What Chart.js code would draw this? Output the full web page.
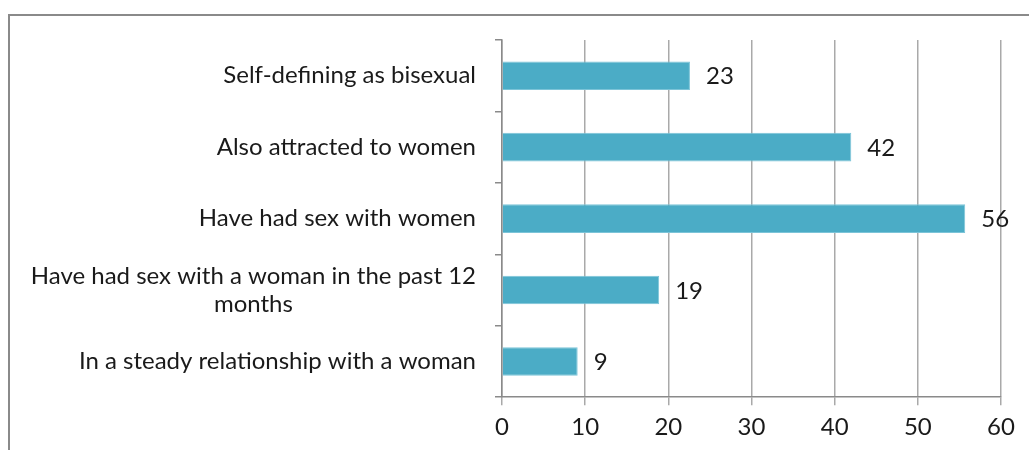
<!DOCTYPE html>
<html>
<head>
<meta charset="utf-8">
<script src="https://cdn.jsdelivr.net/npm/chart.js@4"></script>
<style>
  html, body { margin: 0; padding: 0; background: #fff; overflow: hidden; }
  #wrap { position: relative; width: 1029px; height: 450px; }
  #frame { position: absolute; left: 8px; top: 14px; width: 1100px; height: 600px; border: 2px solid #8a8a8a; }
  canvas { position: absolute; left: 0; top: 0; }
</style>
</head>
<body>
<div id="wrap">
  <div id="frame"></div>
  <canvas id="barChart" width="1029" height="450"></canvas>
</div>
<script>
// data
var categories = [
    ['Self-defining as bisexual'],
    ['Also attracted to women'],
    ['Have had sex with women'],
    ['Have had sex with a woman in the past 12', 'months'],
    ['In a steady relationship with a woman']
];
var values = [22.6, 42, 55.7, 18.9, 9.1];
var valueLabels = ['23', '42', '56', '19', '9'];
var xTicks = [0, 10, 20, 30, 40, 50, 60];

var fontFamily = 'Lato, "Open Sans", sans-serif';
var fontSize = 24;
var textColor = '#1a1a1a';

// category labels drawn by hand so the wrapped one is centred like the original
var labelPlugin = {
    id: 'labels',
    afterDraw: function (chart) {
        var ctx = chart.ctx;
        var yScale = chart.scales.y;
        var area = chart.chartArea;
        ctx.save();
        ctx.font = fontSize + 'px ' + fontFamily;
        ctx.fillStyle = textColor;
        ctx.textBaseline = 'middle';
        ctx.textAlign = 'center';
        var right = area.left - 26;
        var lineH = 28;
        categories.forEach(function (lines, i) {
            var yc = yScale.getPixelForValue(i);
            var w = 0;
            lines.forEach(function (l) { w = Math.max(w, ctx.measureText(l).width); });
            var cx = right - w / 2;
            var y0 = yc - (lines.length - 1) * lineH / 2;
            lines.forEach(function (l, j) {
                ctx.fillText(l, cx, y0 + j * lineH);
            });
        });

        // value labels next to bars
        var meta = chart.getDatasetMeta(0);
        ctx.textAlign = 'left';
        meta.data.forEach(function (bar, i) {
            ctx.fillText(valueLabels[i], bar.x + 16, bar.y + 1);
        });
        ctx.restore();
    }
};

var ctx = document.getElementById('barChart').getContext('2d');

var chart = new Chart(ctx, {
    type: 'bar',
    data: {
        labels: categories.map(function (c) { return c.join(' '); }),
        datasets: [{
            data: values,
            backgroundColor: '#4BACC6',
            borderColor: '#7cc4d8',
            borderWidth: 1,
            barPercentage: 0.4,
            categoryPercentage: 1
        }]
    },
    options: {
        indexAxis: 'y',
        responsive: false,
        animation: false,
        layout: {
            padding: { left: 495, right: 28, top: 40, bottom: 0 }
        },
        plugins: {
            legend: { display: false },
            tooltip: { enabled: false }
        },
        scales: {
            x: {
                min: 0,
                max: 60,
                afterBuildTicks: function (axis) {
                    axis.ticks = xTicks.map(function (v) { return { value: v }; });
                },
                grid: {
                    color: '#a9a9a9',
                    lineWidth: 1.5,
                    tickLength: 8
                },
                border: { color: '#8a8a8a', width: 1.5 },
                ticks: {
                    color: textColor,
                    font: { family: fontFamily, size: fontSize },
                    padding: 8,
                    maxRotation: 0
                }
            },
            y: {
                offset: true,
                grid: {
                    drawOnChartArea: false,
                    color: '#8a8a8a',
                    lineWidth: 1.5,
                    tickLength: 7,
                    offset: true
                },
                border: { color: '#8a8a8a', width: 1.5 },
                ticks: { display: false }
            }
        }
    },
    plugins: [labelPlugin]
});
</script>
</body>
</html>
